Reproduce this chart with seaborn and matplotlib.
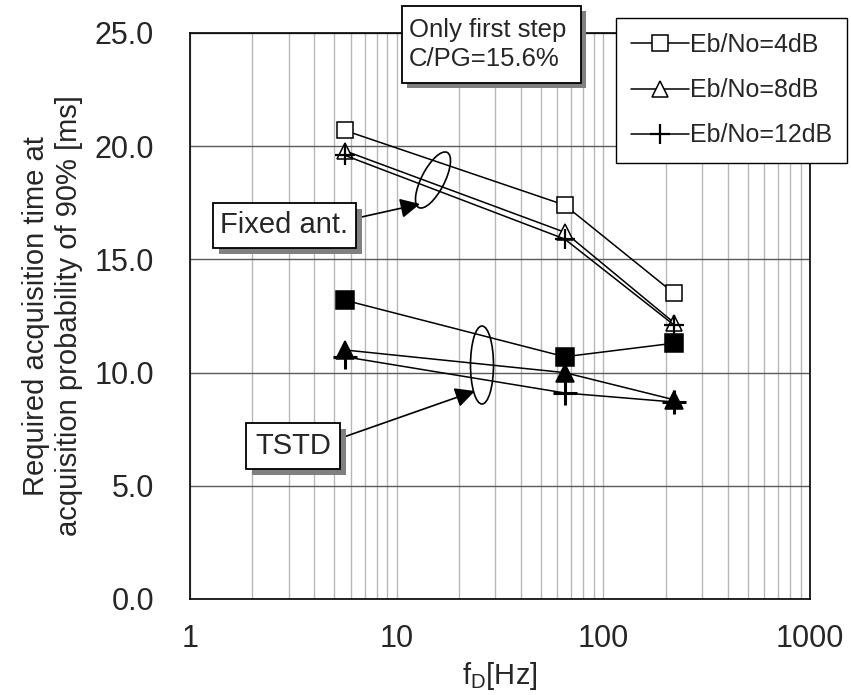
import numpy as np
import pandas as pd
import seaborn as sns
import matplotlib.pyplot as plt
from matplotlib.patches import Rectangle, Ellipse
from matplotlib.transforms import IdentityTransform
from matplotlib.ticker import LogLocator, MultipleLocator, FormatStrFormatter, NullFormatter, FixedLocator

W, H, DPI = 851, 695, 100

# doppler frequency [Hz]
fd_hz = [5.6, 65, 220]

# fixed antenna
fixed_4db = [20.7, 17.4, 13.5]
fixed_8db = [19.8, 16.2, 12.2]
fixed_12db = [19.6, 15.9, 12.1]

# TSTD
tstd_4db = [13.2, 10.7, 11.3]
tstd_8db = [11.0, 10.0, 8.8]
tstd_12db = [10.7, 9.1, 8.7]

legend_labels = ['Eb/No=4dB', 'Eb/No=8dB', 'Eb/No=12dB']
x_ticks = [1, 10, 100, 1000]

sns.set_style('white')
plt.rcParams['font.family'] = ['Liberation Sans', 'DejaVu Sans']
plt.rcParams['mathtext.default'] = 'regular'

fig = plt.figure(figsize=(W / DPI, H / DPI), dpi=DPI)
ax = fig.add_axes([190 / W, 1 - 599 / H, 620 / W, 566 / H])


def draw(yv, marker, fc, ms, mew=1.1):
    sns.lineplot(x=fd_hz, y=yv, ax=ax, color='black', lw=1.1, marker=marker,
                 markersize=ms, markerfacecolor=fc, markeredgecolor='black',
                 markeredgewidth=mew, errorbar=None, legend=False, zorder=3)


draw(fixed_4db, 's', 'white', 11.5)
draw(fixed_8db, '^', 'white', 11.5)
draw(fixed_12db, '+', 'white', 15, 1.6)
handles = list(ax.lines[:3])
draw(tstd_4db, 's', 'black', 12.5)
draw(tstd_8db, '^', 'black', 12.5)
draw(tstd_12db, '+', 'black', 17, 2.2)

ax.set_xscale('log')
ax.set_xlim(1, 1000)
ax.set_ylim(0, 25)
ax.xaxis.set_major_locator(FixedLocator(x_ticks))
ax.xaxis.set_major_formatter(FormatStrFormatter('%d'))
ax.xaxis.set_minor_locator(LogLocator(base=10, subs=np.arange(2, 10)))
ax.xaxis.set_minor_formatter(NullFormatter())
ax.yaxis.set_major_locator(MultipleLocator(5))
ax.yaxis.set_minor_locator(MultipleLocator(1))
ax.yaxis.set_major_formatter(FormatStrFormatter('%.1f'))

ax.set_axisbelow(True)
ax.grid(which='both', axis='x', color='#b8b8b8', lw=1)
ax.grid(which='major', axis='y', color='#5a5a5a', lw=1)
ax.tick_params(which='both', direction='in', length=6.5, width=1, color='black')
ax.tick_params(axis='y', labelsize=22, pad=26)
ax.tick_params(axis='x', labelsize=22, pad=18)
ax.tick_params(axis='x', which='minor', length=6.5)
for s in ax.spines.values():
    s.set_color('black')
    s.set_linewidth(1.2)

ax.set_ylabel('Required acquisition time at\nacquisition probability of 90% [ms]',
              fontsize=21, labelpad=8, linespacing=1.25)
ax.set_xlabel(r'f$_{D}$[Hz]', fontsize=21, labelpad=4)

fig.legend(handles, legend_labels, loc='upper left',
           bbox_to_anchor=(616 / W, 1 - 18 / H), bbox_transform=fig.transFigure,
           borderaxespad=0, fontsize=18, frameon=True, fancybox=False, shadow=False,
           edgecolor='black', framealpha=1, handlelength=2.3, handletextpad=0.05,
           labelspacing=0.85, borderpad=0.6)
fig.legends[0].get_frame().set_linewidth(1.0)


def label_box(x0, y0, x1, y1, text, size, shadow, ha='center', tx=None, ls=1.2):
    fig.add_artist(Rectangle(((x0 + shadow) / W, 1 - (y1 + shadow) / H),
                             (x1 - x0) / W, (y1 - y0) / H, transform=fig.transFigure,
                             fc='#808080', ec='none'))
    fig.add_artist(Rectangle((x0 / W, 1 - y1 / H), (x1 - x0) / W, (y1 - y0) / H,
                             transform=fig.transFigure, fc='white', ec='black', lw=1.3))
    if tx is None:
        tx = (x0 + x1) / 2
    fig.text(tx / W, 1 - (y0 + y1) / 2 / H, text, ha=ha, va='center',
             fontsize=size, linespacing=ls)


label_box(402, 6, 581, 83, 'Only first step\nC/PG=15.6%', 18.5, 5, ha='left', tx=409, ls=1.3)
label_box(213, 203, 356, 248, 'Fixed ant.', 21, 6)
label_box(246, 423, 340, 469, 'TSTD', 21, 6)

fig.add_artist(Ellipse((433, H - 180), 62, 23, angle=62.7, transform=IdentityTransform(),
                       fill=False, ec='black', lw=1.2))
fig.add_artist(Ellipse((482, H - 365), 23, 78, angle=0, transform=IdentityTransform(),
                       fill=False, ec='black', lw=1.2))

arrow = dict(arrowstyle='-|>,head_length=1.0,head_width=0.5', mutation_scale=12,
             color='black', lw=1.2, shrinkA=0, shrinkB=0)
ax.annotate('', xy=(420, H - 204), xycoords='figure pixels',
            xytext=(357, H - 218), textcoords='figure pixels', arrowprops=arrow)
ax.annotate('', xy=(475, H - 391), xycoords='figure pixels',
            xytext=(341, H - 438), textcoords='figure pixels', arrowprops=arrow)

fig.savefig('out.png', dpi=DPI)
